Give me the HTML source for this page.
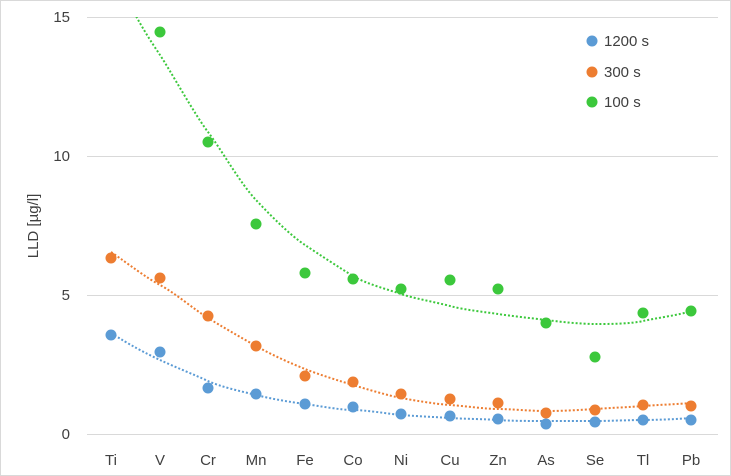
<!DOCTYPE html>
<html><head><meta charset="utf-8"><style>body{margin:0;background:#fff}svg{display:block}text{font-family:"Liberation Sans",sans-serif;fill:#404040}</style></head><body>
<svg width="731" height="476" viewBox="0 0 731 476" xmlns="http://www.w3.org/2000/svg">
<rect x="0.5" y="0.5" width="730" height="475" fill="#fff" stroke="#d9d9d9"/>
<defs><clipPath id="c"><rect x="87" y="17" width="632" height="418"/></clipPath></defs>
<g stroke="#d9d9d9" stroke-width="1">
<line x1="87" y1="17.5" x2="718" y2="17.5"/><line x1="87" y1="156.5" x2="718" y2="156.5"/><line x1="87" y1="295.5" x2="718" y2="295.5"/><line x1="87" y1="434.5" x2="718" y2="434.5"/>
</g>
<g font-size="15" text-anchor="end"><text x="70" y="22">15</text><text x="70" y="161">10</text><text x="70" y="300">5</text><text x="70" y="439">0</text></g>
<text transform="translate(38,226) rotate(-90)" font-size="15" text-anchor="middle">LLD [µg/l]</text>
<g font-size="15" text-anchor="middle">
<text x="111" y="465">Ti</text><text x="160" y="465">V</text><text x="208" y="465">Cr</text><text x="256" y="465">Mn</text><text x="305" y="465">Fe</text><text x="353" y="465">Co</text><text x="401" y="465">Ni</text><text x="450" y="465">Cu</text><text x="498" y="465">Zn</text><text x="546" y="465">As</text><text x="595" y="465">Se</text><text x="643" y="465">Tl</text><text x="691" y="465">Pb</text>
</g>
<g clip-path="url(#c)" fill="none" stroke-width="2" stroke-dasharray="2,2">
<path stroke="#3cc83c" d="M125,-5 C140,25 150,40 160,55 S195,115 208,132 S240,183 256,200 S290,235 305,245 S340,268 353,276 S390,290 401,294 S435,302 450,306 S485,312 498,314 S530,318 546,320 S580,324 595,324 S630,324 643,321 S680,315 691,311"/>
<path stroke="#ed7d31" d="M111,252 C130,265 145,277 160,285 S195,310 208,318 S240,337 256,346 S290,363 305,369 S340,381 353,385 S390,396 401,398 S435,404 450,405 S485,409 498,409 S530,411 546,411 S580,410 595,409 S630,407 643,406 S680,404 691,403"/>
<path stroke="#5b9bd5" d="M111,333 C130,345 145,353 160,360 S195,375 208,381 S240,391 256,395 S290,402 305,404 S340,410 353,410 S390,414 401,415 S435,417 450,418 S485,419 498,420 S530,421 546,421 S580,421 595,421 S630,420 643,420 S680,419 691,418"/>
</g>
<g fill="#5b9bd5"><circle cx="111" cy="335" r="5.5"/><circle cx="160" cy="352" r="5.5"/><circle cx="208" cy="388" r="5.5"/><circle cx="256" cy="394" r="5.5"/><circle cx="305" cy="404" r="5.5"/><circle cx="353" cy="407" r="5.5"/><circle cx="401" cy="414" r="5.5"/><circle cx="450" cy="416" r="5.5"/><circle cx="498" cy="419" r="5.5"/><circle cx="546" cy="424" r="5.5"/><circle cx="595" cy="422" r="5.5"/><circle cx="643" cy="420" r="5.5"/><circle cx="691" cy="420" r="5.5"/></g>
<g fill="#ed7d31"><circle cx="111" cy="258" r="5.5"/><circle cx="160" cy="278" r="5.5"/><circle cx="208" cy="316" r="5.5"/><circle cx="256" cy="346" r="5.5"/><circle cx="305" cy="376" r="5.5"/><circle cx="353" cy="382" r="5.5"/><circle cx="401" cy="394" r="5.5"/><circle cx="450" cy="399" r="5.5"/><circle cx="498" cy="403" r="5.5"/><circle cx="546" cy="413" r="5.5"/><circle cx="595" cy="410" r="5.5"/><circle cx="643" cy="405" r="5.5"/><circle cx="691" cy="406" r="5.5"/></g>
<g fill="#3cc83c"><circle cx="160" cy="32" r="5.5"/><circle cx="208" cy="142" r="5.5"/><circle cx="256" cy="224" r="5.5"/><circle cx="305" cy="273" r="5.5"/><circle cx="353" cy="279" r="5.5"/><circle cx="401" cy="289" r="5.5"/><circle cx="450" cy="280" r="5.5"/><circle cx="498" cy="289" r="5.5"/><circle cx="546" cy="323" r="5.5"/><circle cx="595" cy="357" r="5.5"/><circle cx="643" cy="313" r="5.5"/><circle cx="691" cy="311" r="5.5"/></g>
<circle cx="592" cy="41" r="5.5" fill="#5b9bd5"/><text x="604" y="46" font-size="15">1200 s</text>
<circle cx="592" cy="72" r="5.5" fill="#ed7d31"/><text x="604" y="77" font-size="15">300 s</text>
<circle cx="592" cy="102" r="5.5" fill="#3cc83c"/><text x="604" y="107" font-size="15">100 s</text>
</svg>
</body></html>
